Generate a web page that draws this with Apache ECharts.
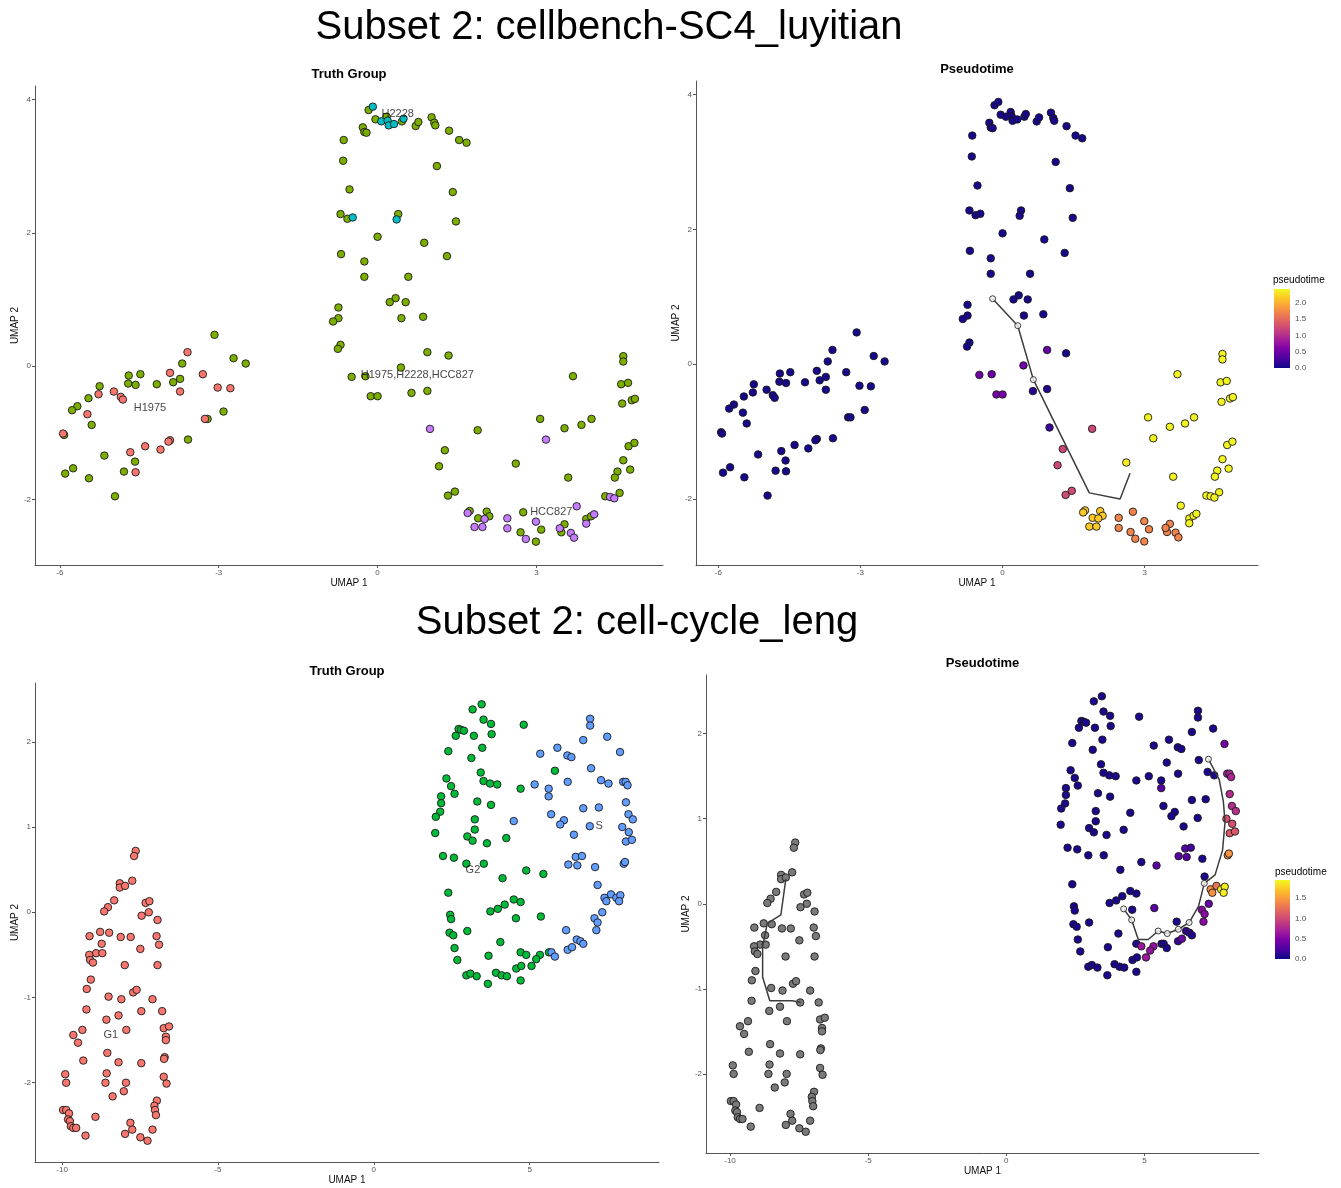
<!DOCTYPE html>
<html><head><meta charset="utf-8">
<script src="https://cdn.jsdelivr.net/npm/echarts@6/dist/echarts.min.js"></script>
<style>html,body{margin:0;padding:0;background:#fff}#c{width:1341px;height:1188px}</style>
</head><body><div id="c"></div>
<script>
// ---------------- DATA ----------------
// Subset 1 (cellbench-SC4_luyitian): [UMAP1, UMAP2, pseudotime]
const sc4_H1975 = [[-3.59,0.21,0.05],[-3.92,-0.10,0.05],[-3.30,-0.12,0.05],[-3.02,-0.32,0.05],[-2.78,-0.33,0.05],[-3.73,-0.38,0.05],[-4.98,-0.38,0.05],[-5.27,-0.42,0.05],[-4.85,-0.46,0.05],[-4.81,-0.50,0.05],[-5.48,-0.72,0.05],[-3.26,-0.79,0.05],[-5.94,-1.01,0.05],[-3.92,-1.11,0.05],[-3.95,-1.13,0.05],[-4.39,-1.20,0.05],[-4.10,-1.25,0.05],[-4.67,-1.29,0.05],[-4.57,-1.59,0.05]];
const sc4_Mixed = [[-3.08,0.47,0.05],[-2.72,0.12,0.05],[-2.49,0.04,0.05],[-3.69,0.04,0.05],[-4.48,-0.12,0.05],[-4.70,-0.14,0.05],[-3.73,-0.19,0.05],[-3.86,-0.24,0.05],[-4.17,-0.27,0.05],[-4.71,-0.26,0.05],[-4.57,-0.28,0.05],[-5.25,-0.30,0.05],[-5.46,-0.48,0.05],[-5.67,-0.60,0.05],[-5.77,-0.66,0.05],[-2.91,-0.68,0.05],[-3.21,-0.79,0.05],[-5.40,-0.88,0.05],[-5.92,-1.03,0.05],[-3.58,-1.10,0.05],[-5.16,-1.34,0.05],[-4.58,-1.43,0.05],[-5.75,-1.53,0.05],[-4.79,-1.58,0.05],[-5.90,-1.61,0.05],[-5.45,-1.68,0.05],[-4.96,-1.95,0.05],
[-0.17,3.84,0.05],[-0.04,3.70,0.05],[0.17,3.74,0.05],[0.46,3.67,0.05],[-0.28,3.58,0.05],[-0.25,3.51,0.05],[-0.21,3.50,0.05],[0.72,3.60,0.05],[0.77,3.66,0.05],[1.02,3.73,0.05],[1.07,3.65,0.05],[1.09,3.61,0.05],[1.35,3.53,0.05],[1.54,3.39,0.05],[1.68,3.35,0.05],[-0.64,3.39,0.05],[-0.65,3.08,0.05],[1.12,3.00,0.05],[-0.53,2.65,0.05],[1.42,2.61,0.05],[-0.70,2.28,0.05],[-0.57,2.21,0.05],[0.39,2.28,0.05],[1.48,2.17,0.05],[0.00,1.94,0.05],[0.88,1.85,0.05],[-0.69,1.68,0.05],[1.31,1.65,0.05],[-0.25,1.57,0.05],[-0.25,1.34,0.05],[0.58,1.34,0.05],[0.34,1.02,0.05],[0.23,0.96,0.05],[0.53,0.96,0.05],[-0.74,0.88,0.05],[-0.74,0.72,0.05],[-0.84,0.67,0.05],[0.45,0.72,0.05],[0.86,0.74,0.05],[-0.70,0.32,0.05],[-0.75,0.26,0.05],[0.94,0.21,0.45],[1.34,0.16,0.05],[0.44,-0.02,0.5],[-0.49,-0.16,0.5],[-0.23,-0.15,0.5],[-0.13,-0.45,0.55],[0.00,-0.45,0.55],[0.64,-0.40,0.12],[0.94,-0.37,0.1],
[1.89,-0.96,1.2],[3.69,-0.15,2.38],[3.07,-0.79,2.38],[3.53,-0.93,2.38],[3.85,-0.88,2.38],[4.04,-0.79,2.38],[4.64,0.15,2.4],[4.64,0.07,2.4],[4.60,-0.27,2.4],[4.73,-0.25,2.4],[4.62,-0.56,2.4],[4.80,-0.51,2.4],[4.86,-0.49,2.4],[4.74,-1.20,2.4],[4.85,-1.15,2.4],[4.64,-1.41,2.4],[4.53,-1.58,2.4],[4.48,-1.67,2.4],[4.77,-1.55,2.4],[4.57,-1.90,2.38],[4.30,-1.95,2.38],[1.27,-1.26,1.2],[1.16,-1.50,1.2],[2.61,-1.46,2.35],[3.60,-1.67,2.38],[1.33,-1.94,1.25],[1.46,-1.88,1.25],[1.74,-2.17,2.15],[1.90,-2.28,2.15],[2.06,-2.18,2.15],[2.11,-2.25,2.15],[2.75,-2.19,1.7],[2.70,-2.49,1.7],[3.09,-2.45,1.7],[2.99,-2.63,1.7],[3.53,-2.37,1.7],[3.47,-2.49,1.7],[3.94,-2.29,2.38],[4.03,-2.25,2.38]];
const sc4_H2228 = [[-0.09,3.89,0.05],[0.07,3.67,0.05],[0.19,3.68,0.05],[0.21,3.61,0.05],[0.31,3.63,0.05],[0.49,3.71,0.05],[-0.47,2.23,0.05],[0.36,2.20,0.05]];
const sc4_HCC827 = [[0.99,-0.94,0.2],[3.18,-1.10,2.38],[4.39,-1.96,2.38],[4.47,-1.98,2.38],[1.70,-2.20,2.15],[2.02,-2.29,2.15],[1.83,-2.41,2.15],[1.98,-2.41,2.15],[2.45,-2.28,1.7],[2.45,-2.43,1.7],[2.99,-2.33,1.7],[2.80,-2.59,1.7],[3.76,-2.10,2.38],[3.44,-2.43,1.7],[3.65,-2.50,1.7],[3.71,-2.57,1.7],[3.94,-2.36,2.38],[4.09,-2.22,2.38]];
const sc4_Groups = ['H1975','H1975,H2228,HCC827','H2228','HCC827'];
const sc4_GroupColors = ['#F8766D','#7CAE00','#00BFC4','#C77CFF'];
const sc4_LabelPos = [[-4.30,-0.63],[0.75,-0.13],[0.38,3.78],[3.28,-2.19]];
const sc4_Trajectory = [[-0.21,0.97],[0.32,0.57],[0.65,-0.23],[1.83,-1.91],[2.48,-2.00],[2.69,-1.62]];
const sc4_Nodes = [[-0.21,0.97],[0.32,0.57],[0.65,-0.23]];
const sc4_XTicks = [-6,-3,0,3];
const sc4_YTicks = [-2,0,2,4];
const sc4_PtTicks = [0,0.5,1,1.5,2];
const sc4_PtMax = 2.42;

// Subset 2 (cell-cycle_leng): [UMAP1, UMAP2, pseudotime]  (G1 has no pseudotime)
const leng_G1 = [[-7.64,0.72],[-7.69,0.66],[-7.75,0.37],[-8.15,0.34],[-8.15,0.29],[-7.98,0.31],[-8.33,0.14],[-8.53,0.06],[-8.65,0.01],[-7.32,0.11],[-7.20,0.13],[-7.22,0.00],[-7.45,-0.04],[-6.94,-0.09],[-9.12,-0.28],[-8.78,-0.23],[-8.49,-0.24],[-8.12,-0.29],[-7.80,-0.29],[-6.97,-0.28],[-6.89,-0.38],[-8.73,-0.37],[-8.91,-0.48],[-8.71,-0.48],[-9.13,-0.50],[-9.10,-0.56],[-9.01,-0.59],[-7.49,-0.43],[-7.99,-0.62],[-6.94,-0.62],[-9.08,-0.79],[-9.21,-0.90],[-7.72,-0.94],[-7.61,-0.91],[-8.51,-0.99],[-8.10,-1.02],[-7.10,-1.02],[-9.22,-1.14],[-7.46,-1.16],[-6.79,-1.16],[-8.19,-1.21],[-8.58,-1.26],[-7.94,-1.38],[-9.35,-1.38],[-9.64,-1.44],[-9.49,-1.53],[-6.74,-1.36],[-6.57,-1.34],[-6.67,-1.46],[-6.67,-1.50],[-8.55,-1.65],[-6.71,-1.70],[-6.73,-1.72],[-9.32,-1.74],[-8.19,-1.76],[-7.46,-1.77],[-9.90,-1.90],[-9.87,-2.00],[-8.57,-1.89],[-8.61,-2.00],[-7.95,-2.00],[-6.74,-1.93],[-6.65,-2.01],[-8.38,-2.16],[-8.02,-2.10],[-6.96,-2.21],[-7.04,-2.27],[-7.02,-2.32],[-6.99,-2.38],[-9.97,-2.32],[-9.87,-2.32],[-9.78,-2.36],[-9.81,-2.43],[-9.75,-2.45],[-9.72,-2.51],[-9.64,-2.53],[-9.55,-2.53],[-8.93,-2.40],[-9.25,-2.62],[-7.81,-2.47],[-7.75,-2.55],[-7.98,-2.60],[-7.49,-2.64],[-7.26,-2.68],[-7.10,-2.55]];
const leng_G2 = [[3.17,2.38,0.05],[3.46,2.44,0.05],[3.52,2.26,0.05],[3.76,2.21,0.05],[3.78,2.09,0.05],[4.81,2.20,0.05],[2.72,2.15,0.05],[2.80,2.14,0.05],[2.89,2.13,0.05],[2.63,2.07,0.05],[3.21,2.07,0.05],[3.48,1.93,0.05],[2.39,1.89,0.05],[3.13,1.81,0.05],[3.43,1.64,0.05],[3.52,1.54,0.05],[3.73,1.51,0.05],[3.96,1.50,0.05],[2.33,1.57,0.05],[2.48,1.48,0.05],[2.59,1.39,0.05],[4.71,1.45,0.05],[5.81,1.66,0.05],[2.16,1.36,0.05],[2.16,1.28,0.05],[2.13,1.18,0.05],[1.99,1.12,0.05],[3.32,1.30,0.05],[3.76,1.26,0.05],[3.24,1.09,0.05],[3.24,0.97,0.05],[1.97,0.93,0.05],[3.00,0.89,0.05],[3.17,0.84,0.05],[3.63,0.81,0.05],[4.25,0.87,0.05],[2.22,0.66,0.05],[2.57,0.64,0.05],[2.97,0.57,0.05],[3.53,0.57,0.05],[4.89,0.49,0.05],[5.44,0.45,0.3],[4.13,0.40,0.05],[2.39,0.23,0.05],[4.49,0.15,0.05],[4.71,0.12,0.05],[4.20,0.09,0.05],[3.98,0.04,0.05],[3.74,0.01,0.05],[5.36,-0.05,0.3],[4.56,-0.07,0.05],[2.45,-0.03,0.05],[2.48,-0.08,0.05],[2.43,-0.24,0.05],[2.55,-0.27,0.05],[3.00,-0.22,0.05],[4.06,-0.35,0.05],[2.59,-0.42,0.05],[2.68,-0.56,0.05],[3.68,-0.51,0.05],[4.71,-0.47,0.08],[4.89,-0.50,0.65],[5.33,-0.50,0.6],[5.21,-0.55,0.6],[5.62,-0.47,0.08],[4.57,-0.66,0.05],[4.73,-0.63,0.05],[5.06,-0.63,0.65],[2.97,-0.74,0.05],[3.10,-0.72,0.05],[3.30,-0.75,0.05],[3.92,-0.71,0.05],[4.10,-0.74,0.05],[4.27,-0.75,0.05],[3.66,-0.84,0.05],[4.71,-0.80,0.05]];
const leng_S = [[6.94,2.27,0.05],[6.94,2.19,0.05],[7.49,2.06,0.05],[6.72,2.02,0.05],[7.90,1.88,0.45],[5.89,1.93,0.05],[5.34,1.86,0.05],[6.21,1.84,0.05],[6.34,1.82,0.05],[6.97,1.69,0.05],[7.29,1.55,0.05],[7.53,1.51,0.05],[6.22,1.53,0.05],[5.16,1.50,0.05],[5.61,1.45,0.05],[5.61,1.36,0.3],[8.00,1.53,0.75],[8.08,1.53,0.75],[8.14,1.49,0.75],[8.09,1.29,0.8],[6.72,1.22,0.05],[7.22,1.23,0.05],[5.69,1.15,0.05],[6.10,1.08,0.05],[5.98,1.03,0.05],[4.49,1.07,0.05],[6.42,0.91,0.05],[6.93,1.01,0.05],[8.17,1.15,0.8],[8.31,1.09,0.82],[7.97,1.00,1.05],[8.18,0.94,1.05],[8.09,0.83,1.1],[8.28,0.85,1.1],[6.48,0.65,0.3],[6.68,0.66,0.2],[6.24,0.56,0.3],[6.53,0.55,0.3],[7.10,0.53,0.05],[8.02,0.57,1.45],[8.06,0.59,1.45],[7.18,0.32,0.05],[7.40,0.17,1.45],[7.46,0.13,1.45],[7.61,0.21,1.3],[7.78,0.17,1.9],[7.91,0.20,1.9],[7.87,0.13,1.9],[7.33,0.00,0.35],[7.08,-0.07,0.55],[7.18,-0.12,0.55],[7.14,-0.21,0.55],[6.17,-0.21,0.05],[6.51,-0.32,0.15],[6.63,-0.34,0.15],[6.72,-0.37,0.08],[6.22,-0.44,0.15],[6.36,-0.41,0.4],[5.70,-0.47,0.05],[5.81,-0.52,0.05]];
const leng_Groups = ['G1','G2','S'];
const leng_GroupColors = ['#F8766D','#00BA38','#619CFF'];
const leng_LabelPos = [[-8.44,-1.44],[3.18,0.50],[7.23,1.01]];
const leng_TrajG1 = [[-7.98,0.29],[-8.16,-0.13],[-8.65,-0.23],[-8.82,-0.50],[-8.82,-0.86],[-8.56,-1.14],[-7.74,-1.14],[-7.44,-1.16]];
const leng_Trajectory = [[4.25,-0.06],[4.54,-0.19],[4.78,-0.42],[5.14,-0.42],[5.50,-0.32],[5.83,-0.35],[6.23,-0.30],[6.62,-0.22],[6.96,-0.03],[7.17,0.24],[7.56,0.34],[7.83,0.63],[7.92,0.96],[7.86,1.20],[7.71,1.46],[7.32,1.70]];
const leng_Nodes = [[4.25,-0.06],[4.54,-0.19],[5.50,-0.32],[5.83,-0.35],[6.23,-0.30],[6.62,-0.22],[7.17,0.24],[7.32,1.70]];
const leng_XTicks = [-10,-5,0,5];
const leng_YTicks = [-2,-1,0,1,2];
const leng_PtTicks = [0,0.5,1,1.5];
const leng_PtMax = 1.95;

const titles = ['Subset 2: cellbench-SC4_luyitian','Subset 2: cell-cycle_leng'];
const PLASMA = ['#0D0887','#4C02A1','#7E03A8','#A92395','#CC4778','#E56B5D','#F89441','#FDC328','#F0F921'];

// ---------------- LAYOUT ----------------
const FONT = '"Liberation Sans", Arial, Helvetica, sans-serif';
const grids = [
  {left:35, top:86, width:628, height:479},
  {left:696, top:81, width:562, height:484},
  {left:35, top:683, width:624, height:479},
  {left:706, top:675, width:553, height:478},
  {left:1274, top:289, width:16, height:79},
  {left:1275, top:880, width:15, height:79}
];
const ranges = [
  {x:[-6.47,5.39], y:[-2.98,4.20], xt:sc4_XTicks, yt:sc4_YTicks},
  {x:[-6.47,5.39], y:[-2.98,4.20], xt:sc4_XTicks, yt:sc4_YTicks},
  {x:[-10.87,9.15], y:[-2.93,2.69], xt:leng_XTicks, yt:leng_YTicks},
  {x:[-10.87,9.15], y:[-2.93,2.69], xt:leng_XTicks, yt:leng_YTicks}
];
const AX = '#555';
const xAxes = [], yAxes = [];
ranges.forEach((r,i)=>{
  xAxes.push({type:'value', gridIndex:i, min:r.x[0], max:r.x[1], name:'UMAP 1', nameLocation:'middle', nameGap:12,
    nameTextStyle:{fontSize:10,color:'#111',fontFamily:FONT},
    axisLine:{show:true,onZero:false,lineStyle:{color:AX,width:1}},
    axisTick:{show:true,length:3,lineStyle:{color:AX},customValues:r.xt},
    axisLabel:{fontSize:8,color:'#555',margin:4,fontFamily:FONT,customValues:r.xt},
    splitLine:{show:false}});
  yAxes.push({type:'value', gridIndex:i, min:r.y[0], max:r.y[1], name:'UMAP 2', nameLocation:'middle', nameGap:14,
    nameTextStyle:{fontSize:10,color:'#111',fontFamily:FONT},
    axisLine:{show:true,onZero:false,lineStyle:{color:AX,width:1}},
    axisTick:{show:true,length:3,lineStyle:{color:AX},customValues:r.yt},
    axisLabel:{fontSize:8,color:'#555',margin:4,fontFamily:FONT,customValues:r.yt},
    splitLine:{show:false}});
});
// legend colourbar axes (right: labels + inner ticks; left: inner ticks only)
const legendY = {};
[[4,sc4_PtMax,sc4_PtTicks],[5,leng_PtMax,leng_PtTicks]].forEach(([gi,mx,tk])=>{
  xAxes.push({type:'category', gridIndex:gi, data:[''], show:false, boundaryGap:true});
  legendY[gi] = yAxes.length;
  yAxes.push({type:'value', gridIndex:gi, min:0, max:mx, position:'right',
    axisLine:{show:false}, splitLine:{show:false},
    axisTick:{show:true,inside:true,length:3,lineStyle:{color:'#fff',width:1},customValues:tk},
    axisLabel:{show:true,fontSize:8,color:'#4d4d4d',margin:5,fontFamily:FONT,customValues:tk,formatter:v=>v.toFixed(1)}});
  yAxes.push({type:'value', gridIndex:gi, min:0, max:mx, position:'left',
    axisLine:{show:false}, splitLine:{show:false},
    axisTick:{show:true,inside:true,length:3,lineStyle:{color:'#fff',width:1},customValues:tk},
    axisLabel:{show:false}});
});

const series = [];
const sym = {symbol:'circle', symbolSize:7.5};
function pts(d){ return d.map(p=>[p[0],p[1],p[2]]); }
const labelStyle = {show:true, position:'inside', formatter:'{b}', fontSize:11, color:'#111', fontFamily:FONT, textBorderWidth:0, textShadowBlur:0};
// Panel 1 truth groups
[sc4_Mixed, sc4_H1975, sc4_H2228, sc4_HCC827].forEach((d,k)=>{
  const gi = [1,0,2,3][k];
  series.push(Object.assign({type:'scatter', xAxisIndex:0, yAxisIndex:0, data:pts(d), silent:true,
    itemStyle:{color:sc4_GroupColors[gi], borderColor:'#1a1a1a', borderWidth:0.9, opacity:1}, z:2}, sym));
});
series.push({type:'scatter', xAxisIndex:0, yAxisIndex:0, symbolSize:1, silent:true, z:5,
  itemStyle:{color:'rgba(0,0,0,0)'},
  data:sc4_LabelPos.map((p,i)=>({value:p, name:sc4_Groups[i]})), label:labelStyle});
// Panel 2 pseudotime
const sc4All = pts([].concat(sc4_H1975, sc4_Mixed, sc4_H2228, sc4_HCC827));
const sc4PtIndex = series.length;
series.push(Object.assign({type:'scatter', xAxisIndex:1, yAxisIndex:1, data:sc4All, silent:true,
  itemStyle:{borderColor:'#1a1a1a', borderWidth:0.9, opacity:1}, z:2}, sym));
series.push({type:'line', xAxisIndex:1, yAxisIndex:1, data:sc4_Trajectory, showSymbol:false, silent:true,
  lineStyle:{color:'#3c3c3c', width:1.5}, z:3});
series.push({type:'scatter', xAxisIndex:1, yAxisIndex:1, data:sc4_Nodes, symbolSize:6, silent:true,
  itemStyle:{color:'#f2f2f2', borderColor:'#111', borderWidth:1}, z:4});
// Panel 3 truth groups
[leng_G1, leng_G2, leng_S].forEach((d,k)=>{
  series.push(Object.assign({type:'scatter', xAxisIndex:2, yAxisIndex:2, data:d.map(p=>[p[0],p[1]]), silent:true,
    itemStyle:{color:leng_GroupColors[k], borderColor:'#1a1a1a', borderWidth:0.9, opacity:1}, z:2}, sym));
});
series.push({type:'scatter', xAxisIndex:2, yAxisIndex:2, symbolSize:1, silent:true, z:5,
  itemStyle:{color:'rgba(0,0,0,0)'},
  data:leng_LabelPos.map((p,i)=>({value:p, name:leng_Groups[i]})), label:labelStyle});
// Panel 4 pseudotime
series.push(Object.assign({type:'scatter', xAxisIndex:3, yAxisIndex:3, data:leng_G1.map(p=>[p[0],p[1]]), silent:true,
  itemStyle:{color:'#7a7a7a', borderColor:'#1a1a1a', borderWidth:0.9, opacity:1}, z:2}, sym));
const lengPtIndex = series.length;
series.push(Object.assign({type:'scatter', xAxisIndex:3, yAxisIndex:3, data:pts([].concat(leng_G2, leng_S)), silent:true,
  itemStyle:{borderColor:'#1a1a1a', borderWidth:0.9, opacity:1}, z:2}, sym));
series.push({type:'line', xAxisIndex:3, yAxisIndex:3, data:leng_TrajG1, showSymbol:false, silent:true,
  lineStyle:{color:'#3c3c3c', width:1.5}, z:3});
series.push({type:'line', xAxisIndex:3, yAxisIndex:3, data:leng_Trajectory, showSymbol:false, silent:true,
  lineStyle:{color:'#3c3c3c', width:1.5}, z:3});
series.push({type:'scatter', xAxisIndex:3, yAxisIndex:3, data:leng_Nodes, symbolSize:6, silent:true,
  itemStyle:{color:'#f2f2f2', borderColor:'#111', borderWidth:1}, z:4});
// Colourbars
function grad(){ return new echarts.graphic.LinearGradient(0,1,0,0, PLASMA.map((c,i)=>({offset:i/(PLASMA.length-1), color:c}))); }
series.push({type:'bar', xAxisIndex:4, yAxisIndex:legendY[4], data:[sc4_PtMax], barWidth:'100%', silent:true, itemStyle:{color:grad()}, z:1});
series.push({type:'bar', xAxisIndex:5, yAxisIndex:legendY[5], data:[leng_PtMax], barWidth:'100%', silent:true, itemStyle:{color:grad()}, z:1});

// free text
function txt(x,y,s,size,weight,align){ return {type:'text', x:x, y:y, z:10, style:{text:s, font:(weight||'normal')+' '+size+'px '+FONT, fill:'#000', textAlign:align||'center', textVerticalAlign:'middle'}}; }
const graphic = [
  txt(609,28,titles[0],40), txt(637,623,titles[1],40),
  txt(35+628/2,74,'Truth Group',13,'bold'), txt(696+562/2,69,'Pseudotime',13,'bold'),
  txt(35+624/2,671,'Truth Group',13,'bold'), txt(706+553/2,663,'Pseudotime',13,'bold'),
  txt(1273,280,'pseudotime',10,'normal','left'), txt(1275,872,'pseudotime',10,'normal','left')
];

const option = {
  animation:false, backgroundColor:'#fff',
  grid:grids, xAxis:xAxes, yAxis:yAxes, series:series, graphic:graphic,
  visualMap:[
    {type:'continuous', show:false, min:0, max:sc4_PtMax, dimension:2, seriesIndex:sc4PtIndex, inRange:{color:PLASMA}},
    {type:'continuous', show:false, min:0, max:leng_PtMax, dimension:2, seriesIndex:lengPtIndex, inRange:{color:PLASMA}}
  ]
};
const chart = echarts.init(document.getElementById('c'));
chart.setOption(option);
</script></body></html>
